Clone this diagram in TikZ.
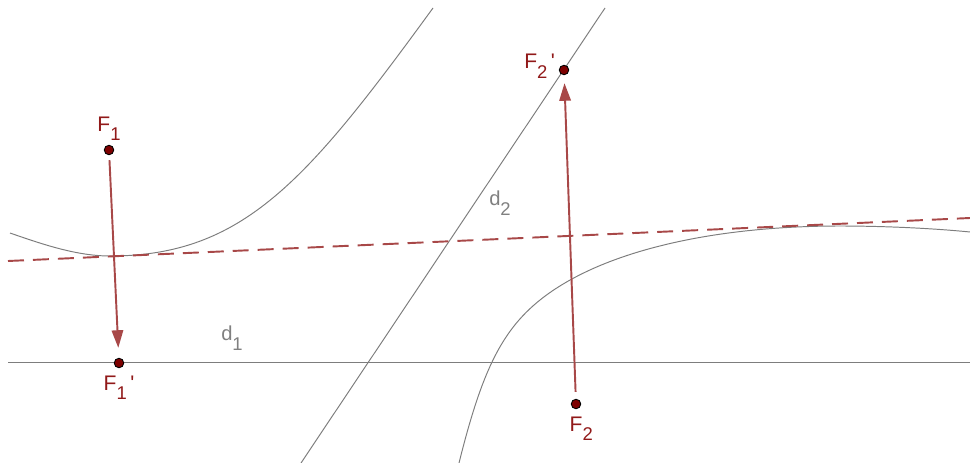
\documentclass[tikz,border=0pt]{standalone}
\usepackage{fontspec}
\setmainfont{Liberation Sans}
\usepackage{tikz}
\usetikzlibrary{arrows.meta,positioning}

\definecolor{ptred}{RGB}{125,0,0}
\definecolor{lblred}{RGB}{145,25,25}
\definecolor{vecred}{RGB}{168,72,72}
\definecolor{curvegray}{RGB}{125,125,125}

\newcommand{\lowidx}[1]{\raisebox{-5.5pt}{\fontsize{10.5}{12}\selectfont #1}}

\begin{document}
\begin{tikzpicture}[
    x=0.02cm, y=-0.02cm,
    pt/.style={circle, draw=black, fill=ptred, line width=0.5pt, inner sep=0pt, minimum size=0.19cm},
    lbl/.style={text=lblred, font=\fontsize{12}{14}\selectfont, inner sep=1pt},
    dlbl/.style={text=gray, font=\fontsize{11.5}{14}\selectfont, inner sep=1pt},
    vec/.style={-{Triangle[length=10pt,width=6.5pt]}, draw=vecred, line width=1.1pt},
    curve/.style={draw=curvegray, line width=0.55pt}
]
\useasboundingbox (0,0) rectangle (970,463);

\draw[curve] (8,362) -- (970,362);
\draw[curve] (301,463) -- (605,8);

\draw[curve] (10,233) .. controls (43,244.5) and (77,256) .. (110,256)
    .. controls (243,256) and (307,181) .. (433,8);
\draw[curve] (459,463) .. controls (481,375) and (500,332) .. (540,300)
    .. controls (600,252) and (710,226) .. (840,226)
    .. controls (880,226) and (930,228) .. (970,232);

\draw[vecred, line width=1.1pt, dash pattern=on 0.32cm off 0.18cm] (8,261) -- (970,218);

\node[pt] (F1) at (109,150) {};
\node[pt] (F1p) at (119,363) {};
\node[pt] (F2) at (576,404) {};
\node[pt] (F2p) at (564,70) {};

\node[lbl, above=1pt of F1] (F1lbl) {F\lowidx{1}};
\node[lbl, below=3pt of F1p] (F1plbl) {F\lowidx{1}\,\textquotesingle};
\node[lbl, left=1pt of F2p, yshift=2pt] (F2plbl) {F\lowidx{2}\,\textquotesingle};
\node[lbl, below=3pt of F2, xshift=3pt] (F2lbl) {F\lowidx{2}};

\node[dlbl] (d1) at (232,338) {d\lowidx{1}};
\node[dlbl] (d2) at (500,203) {d\lowidx{2}};

\draw[vec, shorten <=0.1cm, shorten >=0.2cm] (F1) -- (F1p);
\draw[vec, shorten <=0.14cm, shorten >=0.16cm] (F2) -- (F2p);
\end{tikzpicture}
\end{document}
